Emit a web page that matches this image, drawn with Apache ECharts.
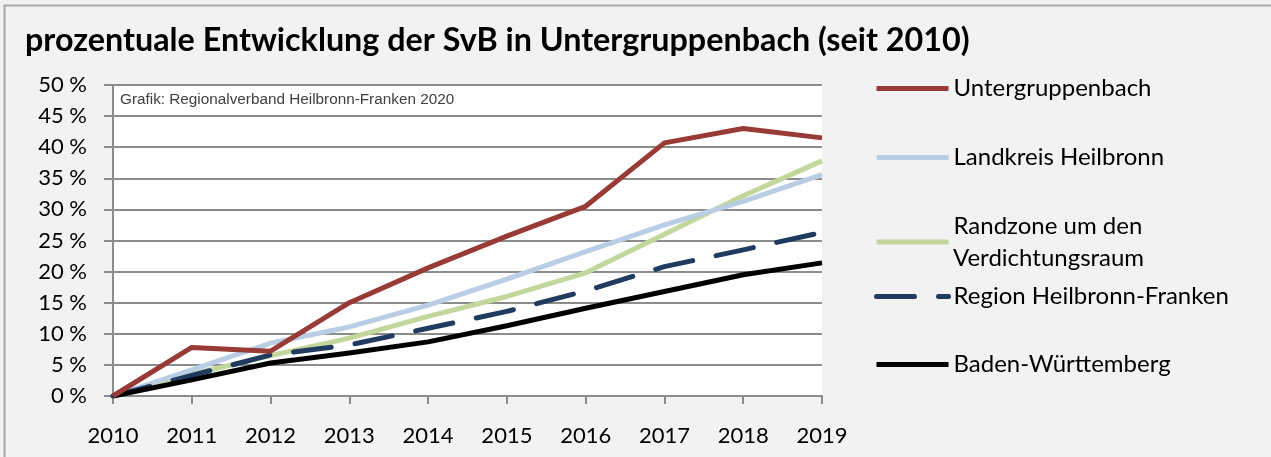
<!DOCTYPE html>
<html>
<head>
<meta charset="utf-8">
<script src="https://cdn.jsdelivr.net/npm/echarts@6/dist/echarts.min.js"></script>
<style>
html,body{margin:0;padding:0;background:#f2f2f2;}
#c{width:1271px;height:457px;}
</style>
</head>
<body>
<div id="c"></div>
<script>
const years = ['2010','2011','2012','2013','2014','2015','2016','2017','2018','2019'];
const untergruppenbach = [0, 7.8, 7.2, 15.0, 20.6, 25.7, 30.5, 40.7, 43.0, 41.5];
const landkreisHeilbronn = [0, 4.2, 8.5, 11.1, 14.6, 18.8, 23.2, 27.5, 31.3, 35.6];
const randzone = [0, 3.5, 6.5, 9.3, 12.8, 16.0, 19.8, 26.0, 32.2, 37.8];
const regionHNF = [0, 3.3, 6.6, 8.2, 10.9, 13.6, 16.9, 20.8, 23.5, 26.3];
const badenWuerttemberg = [0, 2.6, 5.3, 6.9, 8.7, 11.3, 14.1, 16.8, 19.5, 21.4];
const seriesNames = ['Untergruppenbach','Landkreis Heilbronn','Randzone um den Verdichtungsraum','Region Heilbronn-Franken','Baden-Württemberg'];
const seriesColors = ['#983a36','#b9cde5','#c3d69b','#1f3b60','#000000'];
const yTicks = [0,5,10,15,20,25,30,35,40,45,50];

const chart = echarts.init(document.getElementById('c'), null, {renderer:'canvas'});
const font = 'Lato';
const seriesData = [untergruppenbach, landkreisHeilbronn, randzone, regionHNF, badenWuerttemberg];
const series = seriesData.map((d,i)=>({
  name: seriesNames[i],
  type: 'line',
  data: d,
  symbol: 'none',
  z: 10 - i,
  lineStyle: {
    color: seriesColors[i],
    width: 5,
    type: i === 3 ? [38, 24] : 'solid',
    cap: i === 3 ? 'round' : 'butt',
    join: 'round'
  },
  itemStyle: {color: seriesColors[i]}
}));
series[4].z = 12; series[3].z = 11; series[0].z = 13;

const legendCenters = [89, 158, 227, 297, 365];
const legends = seriesNames.map((n,i)=>{
  const isTwo = i === 2;
  return {
    data: [n],
    left: 874,
    top: legendCenters[i] - 16,
    padding: 0,
    orient: 'vertical',
    itemWidth: 72,
    itemHeight: 24,
    selectedMode: false,
    lineStyle: {width: 5},
    itemStyle: {opacity: 0},
    textStyle: {fontFamily: font, fontSize: 24, color: '#000', lineHeight: 31},
    formatter: isTwo ? 'Randzone um den\n ' : '{name}'
  };
});

chart.setOption({
  backgroundColor: '#f2f2f2',
  animation: false,
  title: {
    text: 'prozentuale Entwicklung der SvB in Untergruppenbach (seit 2010)',
    left: 20, top: 20,
    textStyle: {fontFamily: font, fontWeight: 'bold', fontSize: 32.3, color: '#000'}
  },
  legend: legends,
  grid: {left: 113, right: 449, top: 85, bottom: 61, show: true, backgroundColor: '#ffffff', borderWidth: 0},
  xAxis: {
    type: 'category',
    data: years,
    boundaryGap: false,
    axisLine: {lineStyle: {color: '#8c8c8c', width: 2}},
    axisTick: {show: true, length: 8, lineStyle: {color: '#8c8c8c', width: 2}},
    axisLabel: {fontFamily: font, fontSize: 22, color: '#000', margin: 29},
    splitLine: {show: false}
  },
  yAxis: {
    type: 'value',
    min: 0, max: 50, interval: 5,
    axisLine: {show: true, lineStyle: {color: '#8c8c8c', width: 2}},
    axisTick: {show: true, length: 9, lineStyle: {color: '#8c8c8c', width: 2}},
    axisLabel: {fontFamily: font, fontSize: 22, color: '#000', margin: 26,
      formatter: v => yTicks.includes(v) ? v + ' %' : ''},
    splitLine: {show: true, lineStyle: {color: '#8c8c8c', width: 2}}
  },
  graphic: [
    {type: 'rect', left: 2, top: 3, shape: {width: 1300, height: 500},
     style: {fill: 'none', stroke: '#a6a6a6', lineWidth: 2}, silent: true, z: -1},
    {type: 'text', left: 120, top: 92, z: 100,
     style: {text: 'Grafik: Regionalverband Heilbronn-Franken 2020', font: '15.3px "Liberation Sans", Arial', fill: '#404040'}},
    {type: 'text', left: 953, top: 246, z: 100,
     style: {text: 'Verdichtungsraum', font: '24px Lato', fill: '#000'}}
  ],
  series: series
});
</script>
</body>
</html>
